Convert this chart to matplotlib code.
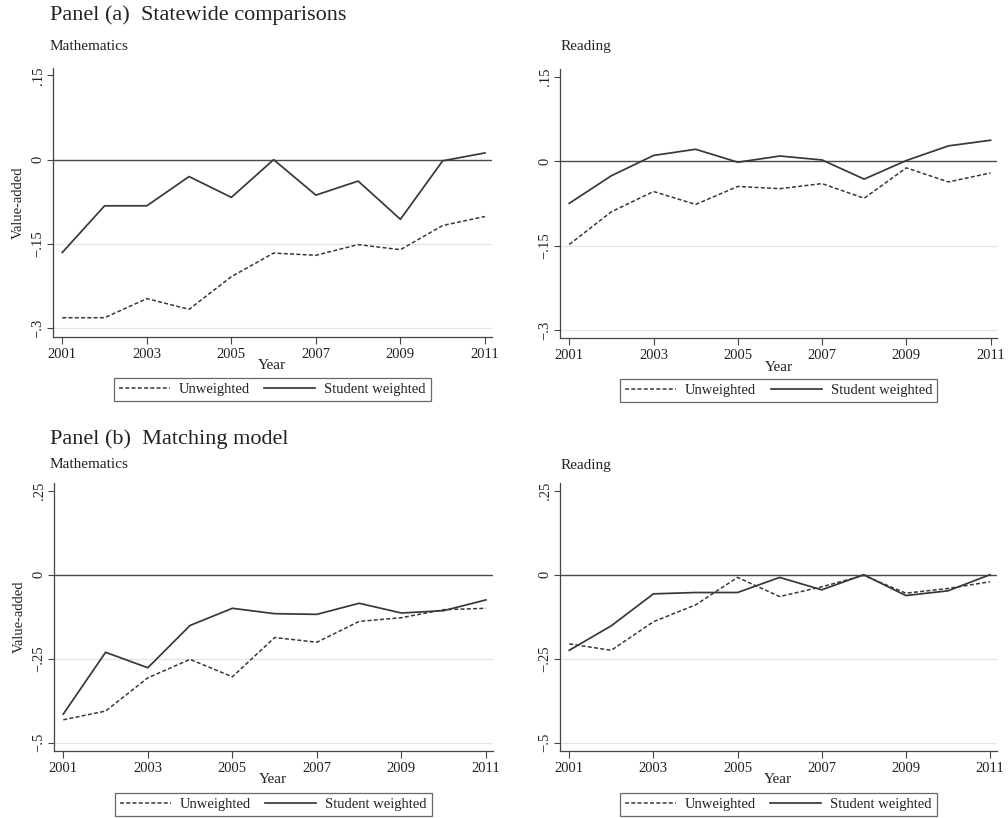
import numpy as np
import matplotlib.pyplot as plt

plt.rcParams['font.family'] = ['Liberation Serif', 'DejaVu Serif']

years = np.arange(2001, 2012)

# Panel (a) statewide comparisons
a_math_unw = [-0.281, -0.281, -0.247, -0.266, -0.208, -0.166, -0.170, -0.151, -0.160, -0.117, -0.101]
a_math_stw = [-0.165, -0.082, -0.082, -0.030, -0.067, 0.000, -0.063, -0.038, -0.106, -0.002, 0.012]
a_read_unw = [-0.148, -0.090, -0.054, -0.077, -0.045, -0.049, -0.040, -0.066, -0.012, -0.037, -0.021]
a_read_stw = [-0.075, -0.026, 0.010, 0.021, -0.002, 0.009, 0.002, -0.032, 0.001, 0.027, 0.037]

# Panel (b) matching model
b_math_unw = [-0.432, -0.406, -0.307, -0.252, -0.304, -0.187, -0.201, -0.139, -0.128, -0.104, -0.100]
b_math_stw = [-0.415, -0.231, -0.277, -0.151, -0.100, -0.116, -0.118, -0.085, -0.114, -0.107, -0.075]
b_read_unw = [-0.206, -0.225, -0.140, -0.090, -0.008, -0.065, -0.036, -0.002, -0.055, -0.041, -0.021]
b_read_stw = [-0.225, -0.152, -0.057, -0.053, -0.053, -0.008, -0.045, 0.000, -0.062, -0.048, 0.000]

a_ticks = [-0.3, -0.15, 0, 0.15]
a_labels = ['\u2212.3', '\u2212.15', '0', '.15']
b_ticks = [-0.5, -0.25, 0, 0.25]
b_labels = ['\u2212.5', '\u2212.25', '0', '.25']
x_ticks = [2001, 2003, 2005, 2007, 2009, 2011]

W, H = 1008, 818
fig = plt.figure(figsize=(W / 100, H / 100), dpi=100)
fig.patch.set_facecolor('white')

TXT = '#222222'
LINE = '#383838'


def rect(x0, y0, x1, y1):
    return [x0 / W, 1 - y1 / H, (x1 - x0) / W, (y1 - y0) / H]


def draw(box, unw, stw, ticks, labels, ylim, subtitle, sub_xy, ylabel, leg_top):
    ax = fig.add_axes(rect(*box))
    for t in ticks:
        if t != 0 and t != ticks[-1]:
            ax.axhline(t, color='#e4e4e4', lw=0.9, zorder=0)
    ax.axhline(0, color='#4a4a4a', lw=1.0, zorder=1)
    ax.plot(years, unw, color=LINE, lw=1.1, ls=(0, (2.6, 1.5)), label='Unweighted')
    ax.plot(years, stw, color=LINE, lw=1.25, ls='-', label='Student weighted')
    ax.set_xlim(2000.78, 2011.16)
    ax.set_ylim(*ylim)
    ax.set_xticks(x_ticks)
    ax.set_xticklabels([str(x) for x in x_ticks], fontsize=10.5, color=TXT)
    ax.set_yticks(ticks)
    ax.set_yticklabels(labels, fontsize=10.5, color=TXT, rotation=90, va='center')
    ax.tick_params(axis='x', direction='out', length=5, width=0.8, color='#444444', pad=3)
    ax.tick_params(axis='y', direction='out', length=4, width=0.8, color='#444444', pad=2)
    for s in ['top', 'right']:
        ax.spines[s].set_visible(False)
    for s in ['left', 'bottom']:
        ax.spines[s].set_color('#444444')
        ax.spines[s].set_linewidth(0.9)
    ax.set_xlabel('Year', fontsize=11, color=TXT, labelpad=-1)
    if ylabel:
        ax.set_ylabel('Value-added', fontsize=10.5, color=TXT, labelpad=5)
    fig.text(sub_xy[0] / W, 1 - sub_xy[1] / H, subtitle, fontsize=11,
             color=TXT, va='center', ha='left')
    cx = (box[0] + box[2]) / 2
    leg = ax.legend(loc='upper center', bbox_to_anchor=(cx / W, 1 - leg_top / H),
                    bbox_transform=fig.transFigure, ncol=2, frameon=True,
                    fancybox=False, edgecolor='#444444', fontsize=10.5,
                    handlelength=3.5, columnspacing=1.0, borderpad=0.35,
                    handletextpad=0.6, borderaxespad=0)
    leg.get_frame().set_linewidth(0.9)
    for t in leg.get_texts():
        t.set_color(TXT)
    return ax


a_ylim = (-0.3147, 0.163)
b_ylim = (-0.524, 0.274)

draw((53, 68, 491.7, 336.7), a_math_unw, a_math_stw, a_ticks, a_labels, a_ylim,
     'Mathematics', (50, 46), True, 378)
draw((560, 69.3, 997.3, 338.3), a_read_unw, a_read_stw, a_ticks, a_labels, a_ylim,
     'Reading', (561, 46.5), False, 379)
draw((54, 482.7, 492.7, 750.7), b_math_unw, b_math_stw, b_ticks, b_labels, b_ylim,
     'Mathematics', (50, 465), True, 793)
draw((560, 482.7, 996.7, 750.7), b_read_unw, b_read_stw, b_ticks, b_labels, b_ylim,
     'Reading', (561, 465), False, 793)

fig.text(50 / W, 1 - 15 / H, 'Panel (a)  Statewide comparisons', fontsize=16,
         color=TXT, va='center', ha='left')
fig.text(50 / W, 1 - 439 / H, 'Panel (b)  Matching model', fontsize=16,
         color=TXT, va='center', ha='left')

fig.savefig('out.png', dpi=100, facecolor='white')
